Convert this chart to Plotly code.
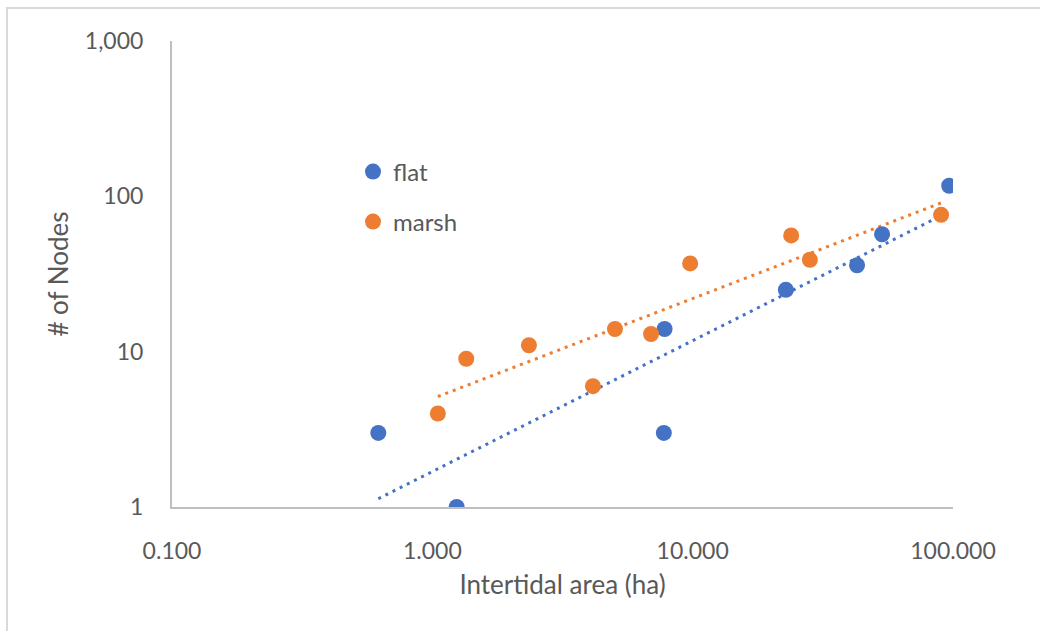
import numpy as np
import plotly.graph_objects as go

# ---- data ----
flat_x = [0.62, 1.24, 7.8, 7.75, 22.8, 42.8, 53.4, 96.7]
flat_y = [3, 1, 14, 3, 25, 36, 57, 117]
marsh_x = [1.05, 1.35, 2.35, 4.14, 5.03, 6.92, 9.78, 23.9, 28.2, 90.0]
marsh_y = [4, 9, 11, 6, 14, 13, 37, 56, 39, 76]

x_tickvals = [0.1, 1, 10, 100]
x_ticktext = ["0.100", "1.000", "10.000", "100.000"]
y_tickvals = [1, 10, 100, 1000]
y_ticktext = ["1", "10", "100", "1,000"]

BLUE = "#4472C4"
ORANGE = "#ED7D31"
TXT = "#595959"
FONT = "Lato"

W, H = 1040, 631
L, R, T, B = 172, 87, 41, 124


def power_fit(xs, ys):
    lx, ly = np.log10(xs), np.log10(ys)
    b, a = np.polyfit(lx, ly, 1)
    xe = np.array([min(xs), max(xs)])
    return xe, 10 ** (a + b * np.log10(xe))


fig = go.Figure()

for xs, ys, col in [(flat_x, flat_y, BLUE), (marsh_x, marsh_y, ORANGE)]:
    tx, ty = power_fit(xs, ys)
    fig.add_trace(go.Scatter(
        x=tx, y=ty, mode="lines", showlegend=False, hoverinfo="skip",
        line=dict(color=col, width=3, dash="3px,5px"),
    ))

fig.add_trace(go.Scatter(
    x=flat_x, y=flat_y, mode="markers", name="flat", legend="legend",
    marker=dict(color=BLUE, size=16, line=dict(width=0)),
))
fig.add_trace(go.Scatter(
    x=marsh_x, y=marsh_y, mode="markers", name="marsh", legend="legend2",
    marker=dict(color=ORANGE, size=16, line=dict(width=0)),
))

pw, ph = W - L - R, H - T - B


def px_x(p):
    return (p - L) / pw


def px_y(p):
    return (H - B - p) / ph


legend_common = dict(
    font=dict(family=FONT, size=24, color=TXT),
    bgcolor="rgba(0,0,0,0)", borderwidth=0,
    xanchor="left", yanchor="middle",
)

fig.update_layout(
    width=W, height=H,
    margin=dict(l=L, r=R, t=T, b=B, autoexpand=False),
    paper_bgcolor="white", plot_bgcolor="white",
    font=dict(family=FONT, size=23, color=TXT),
    legend=dict(x=px_x(353), y=px_y(172), **legend_common),
    legend2=dict(x=px_x(353), y=px_y(222), **legend_common),
    xaxis=dict(
        type="log", range=[-1, 2],
        tickvals=x_tickvals, ticktext=x_ticktext,
        showgrid=False, zeroline=False,
        showline=True, linecolor="#BFBFBF", linewidth=2,
        ticks="", ticklabelstandoff=22,
        tickfont=dict(family=FONT, size=23, color=TXT),
        title=dict(text="Intertidal area (ha)", standoff=13,
                   font=dict(family=FONT, size=26, color=TXT)),
    ),
    yaxis=dict(
        type="log", range=[0, 3],
        tickvals=y_tickvals, ticktext=y_ticktext,
        showgrid=False, zeroline=False,
        showline=True, linecolor="#BFBFBF", linewidth=2,
        ticks="", ticklabelstandoff=22,
        tickfont=dict(family=FONT, size=23, color=TXT),
        title=dict(text="# of Nodes", standoff=9,
                   font=dict(family=FONT, size=26, color=TXT)),
    ),
    shapes=[dict(
        type="rect", xref="paper", yref="paper",
        x0=px_x(7), x1=px_x(1100), y0=px_y(700), y1=px_y(8),
        line=dict(color="#D9D9D9", width=2), fillcolor="rgba(0,0,0,0)",
        layer="below",
    )],
)

fig.write_html("out.html")
